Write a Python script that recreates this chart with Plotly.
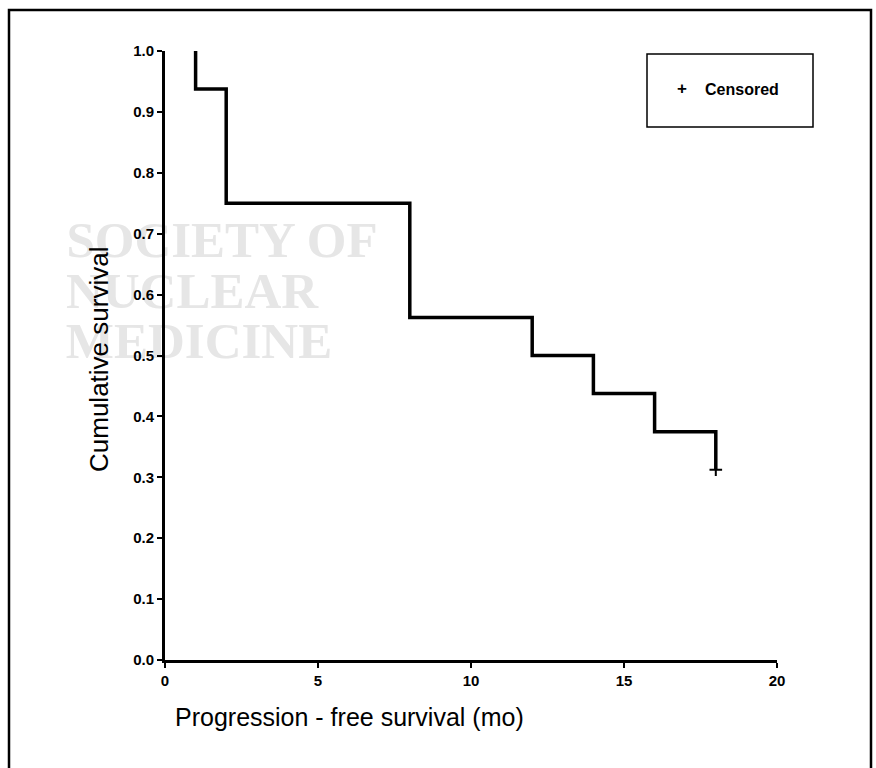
import plotly.graph_objects as go

# Kaplan-Meier step data (months, cumulative survival)
step_times = [1, 1, 2, 8, 12, 14, 16, 18]
step_surv = [1.0, 0.9375, 0.75, 0.5625, 0.5, 0.4375, 0.375, 0.3125]

censor_times = [18]
censor_surv = [0.3125]

x_ticks = [0, 5, 10, 15, 20]
y_ticks = [0.0, 0.1, 0.2, 0.3, 0.4, 0.5, 0.6, 0.7, 0.8, 0.9, 1.0]
y_tick_labels = [f"{v:.1f}" for v in y_ticks]

watermark_lines = ["SOCIETY OF", "NUCLEAR", "MEDICINE"]

FONT = "Arial, Liberation Sans, Helvetica, sans-serif"

L, R, T, B = 165, 99, 51, 108
W, H = 876, 768
pw = W - L - R
ph = H - T - B


def px(xp):
    return (xp - L) / pw


def py(yp):
    return (H - B - yp) / ph


fig = go.Figure()

# watermark as a text trace (drawn beneath axis lines and tick labels)
wm_centers_px = [222, 192, 199]
wm_rows_px = [241, 292, 342]
fig.add_trace(go.Scatter(
    x=[(c - L) / pw * 20 for c in wm_centers_px],
    y=[(H - B - yc - 3) / ph for yc in wm_rows_px],
    text=watermark_lines, mode="text", textposition="middle center",
    textfont=dict(family="Liberation Serif, Times New Roman, serif", size=51,
                  color="#e6e6e6", weight="bold"),
    showlegend=False, hoverinfo="skip", cliponaxis=False,
))

fig.add_trace(go.Scatter(
    x=step_times, y=step_surv, mode="lines",
    line=dict(color="black", width=3.5, shape="hv"),
    showlegend=False, hoverinfo="skip", cliponaxis=False,
))
fig.add_trace(go.Scatter(
    x=censor_times, y=censor_surv, mode="markers",
    marker=dict(symbol="cross-thin-open", size=9, color="black",
                line=dict(color="black", width=2)),
    name="Censored", showlegend=False, cliponaxis=False,
))

annotations = []
# axis titles
annotations.append(dict(
    text="Cumulative survival", xref="paper", yref="paper",
    x=px(99), y=py(360), textangle=-90, showarrow=False,
    xanchor="center", yanchor="middle",
    font=dict(family=FONT, size=26, color="black"),
))
annotations.append(dict(
    text="Progression - free survival (mo)", xref="paper", yref="paper",
    x=px(173), y=py(717), showarrow=False,
    xanchor="left", yanchor="middle",
    font=dict(family=FONT, size=25, color="black"),
))
# legend
annotations.append(dict(
    text="+", xref="paper", yref="paper", x=px(682), y=py(88),
    showarrow=False, xanchor="center", yanchor="middle",
    font=dict(family=FONT, size=17, color="black", weight="bold"),
))
annotations.append(dict(
    text="Censored", xref="paper", yref="paper", x=px(703), y=py(89),
    showarrow=False, xanchor="left", yanchor="middle",
    font=dict(family=FONT, size=16, color="black", weight="bold"),
))

shapes = [
    # legend box
    dict(type="rect", xref="paper", yref="paper",
         x0=px(647), x1=px(813), y0=py(127), y1=py(54),
         line=dict(color="black", width=1.5)),
    # outer frame
    dict(type="rect", xref="paper", yref="paper",
         x0=px(9), x1=px(871), y0=py(790), y1=py(10),
         line=dict(color="black", width=2.5)),
]

fig.update_layout(
    width=W, height=H,
    margin=dict(l=L, r=R, t=T, b=B),
    paper_bgcolor="white", plot_bgcolor="white",
    showlegend=False,
    annotations=annotations, shapes=shapes,
    font=dict(family=FONT, color="black"),
)
fig.update_xaxes(
    range=[0, 20], tickvals=x_ticks, ticktext=[str(v) for v in x_ticks],
    showgrid=False, zeroline=False, showline=True, linecolor="black", linewidth=3,
    ticks="outside", ticklen=5, tickwidth=2, tickcolor="black",
    tickfont=dict(family=FONT, size=15, color="black", weight="bold"),
)
fig.update_yaxes(
    range=[0, 1], tickvals=y_ticks, ticktext=y_tick_labels,
    showgrid=False, zeroline=False, showline=True, linecolor="black", linewidth=3,
    ticks="outside", ticklen=5, tickwidth=2, tickcolor="black",
    tickfont=dict(family=FONT, size=15, color="black", weight="bold"),
)

fig.write_html("out.html",
               config={"displayModeBar": False},
               post_script="document.body.style.margin='0';document.body.style.padding='0';")
